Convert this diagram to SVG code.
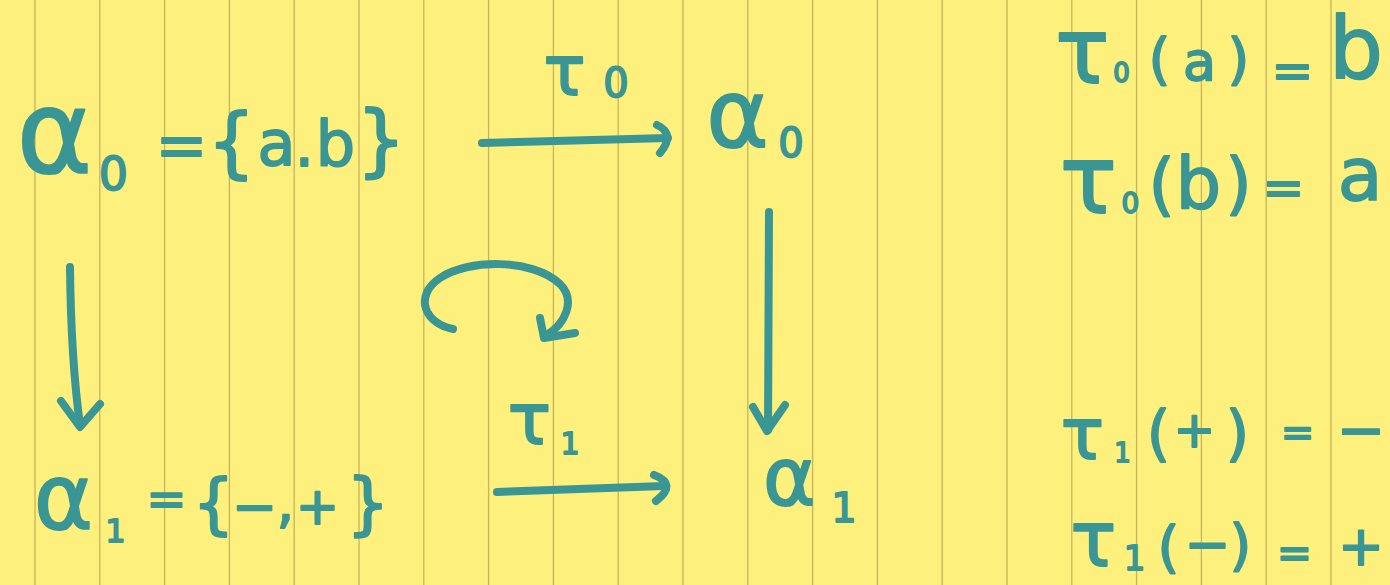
<svg xmlns="http://www.w3.org/2000/svg" width="1390" height="585" viewBox="0 0 1390 585">
  <style>
    .ink { fill: #3a9694; stroke: #3a9694; stroke-width: 1.8; stroke-linejoin: round; font-family: "DejaVu Sans", "Noto Sans", sans-serif; text-anchor: middle; }
    .stroke { fill: none; stroke: #3a9694; stroke-width: 8; stroke-linecap: round; stroke-linejoin: round; }
    .rule { stroke: #c9b35c; stroke-width: 1.3; }
  </style>

  <!-- legal pad paper -->
  <rect x="0" y="0" width="1390" height="585" fill="#fdf07c"/>
  <g id="paper-rules">
    <line class="rule" x1="35" y1="0" x2="35" y2="585"/>
    <line class="rule" x1="99.8" y1="0" x2="99.8" y2="585"/>
    <line class="rule" x1="164.6" y1="0" x2="164.6" y2="585"/>
    <line class="rule" x1="229.4" y1="0" x2="229.4" y2="585"/>
    <line class="rule" x1="294.2" y1="0" x2="294.2" y2="585"/>
    <line class="rule" x1="359" y1="0" x2="359" y2="585"/>
    <line class="rule" x1="423.8" y1="0" x2="423.8" y2="585"/>
    <line class="rule" x1="488.6" y1="0" x2="488.6" y2="585"/>
    <line class="rule" x1="553.4" y1="0" x2="553.4" y2="585"/>
    <line class="rule" x1="618.2" y1="0" x2="618.2" y2="585"/>
    <line class="rule" x1="683" y1="0" x2="683" y2="585"/>
    <line class="rule" x1="747.8" y1="0" x2="747.8" y2="585"/>
    <line class="rule" x1="812.6" y1="0" x2="812.6" y2="585"/>
    <line class="rule" x1="877.4" y1="0" x2="877.4" y2="585"/>
    <line class="rule" x1="942.2" y1="0" x2="942.2" y2="585"/>
    <line class="rule" x1="1007" y1="0" x2="1007" y2="585"/>
    <line class="rule" x1="1071.8" y1="0" x2="1071.8" y2="585"/>
    <line class="rule" x1="1136.6" y1="0" x2="1136.6" y2="585"/>
    <line class="rule" x1="1201.4" y1="0" x2="1201.4" y2="585"/>
    <line class="rule" x1="1266.2" y1="0" x2="1266.2" y2="585"/>
    <line class="rule" x1="1331" y1="0" x2="1331" y2="585"/>
  </g>

  <!-- α0 = {a.b} -->
  <g id="node-alpha0-set">
    <text class="ink">
      <tspan x="57" y="172" font-size="115">α</tspan>
      <tspan x="116" y="190" font-size="46">0</tspan>
      <tspan x="184" y="167" font-size="62">=</tspan>
      <tspan x="234" y="168" font-size="76">{</tspan>
      <tspan x="279" y="165" font-size="62">a</tspan>
      <tspan x="307" y="166" font-size="62">.</tspan>
      <tspan x="338" y="165" font-size="62">b</tspan>
      <tspan x="381" y="167" font-size="78">}</tspan>
    </text>
  </g>

  <!-- α0 (target) -->
  <g id="node-alpha0">
    <text class="ink">
      <tspan x="740" y="147" font-size="95">α</tspan>
      <tspan x="791" y="157" font-size="40">0</tspan>
    </text>
  </g>

  <!-- α1 = {−, +} -->
  <g id="node-alpha1-set">
    <text class="ink">
      <tspan x="66" y="529" font-size="90">α</tspan>
      <tspan x="118" y="542" font-size="32">1</tspan>
      <tspan x="169" y="515" font-size="48">=</tspan>
      <tspan x="216" y="526" font-size="66">{</tspan>
      <tspan x="257" y="525" font-size="54">−</tspan>
      <tspan x="288" y="522" font-size="56">,</tspan>
      <tspan x="320" y="524" font-size="52">+</tspan>
      <tspan x="368" y="527" font-size="68">}</tspan>
    </text>
  </g>

  <!-- α1 (target) -->
  <g id="node-alpha1">
    <text class="ink">
      <tspan x="792" y="505" font-size="80">α</tspan>
      <tspan x="844" y="522" font-size="40">1</tspan>
    </text>
  </g>

  <!-- arrows between the sets -->
  <g id="connectors">
    <!-- τ0 : α0 → α0 -->
    <path class="stroke" d="M482,143 L668,138"/>
    <path class="stroke" d="M657,125 Q676,134 660,153"/>
    <!-- left vertical -->
    <path class="stroke" d="M70,267 Q71,360 80,425"/>
    <path class="stroke" d="M61,401 L80,427 L100,404"/>
    <!-- right vertical -->
    <path class="stroke" d="M769,212 L768,430"/>
    <path class="stroke" d="M753,407 L767,431 L785,405"/>
    <!-- τ1 : α1 → α1 -->
    <path class="stroke" d="M497,492 L664,486"/>
    <path class="stroke" d="M654,475 Q678,484 656,501"/>
    <!-- curved arrow -->
    <path class="stroke" d="M453,329 C425,324 413,296 440,278 C468,259 532,258 560,284 C576,300 566,324 545,336"/>
    <path class="stroke" d="M540,318 L544,338 L575,333"/>
  </g>

  <!-- arrow labels -->
  <g id="label-tau0">
    <text class="ink">
      <tspan x="567" y="95" font-size="70">τ</tspan>
      <tspan x="616" y="97" font-size="40">0</tspan>
    </text>
  </g>
  <g id="label-tau1">
    <text class="ink">
      <tspan x="532" y="444" font-size="72">τ</tspan>
      <tspan x="570" y="454" font-size="30">1</tspan>
    </text>
  </g>

  <!-- τ0 values -->
  <g id="eq-tau0-a">
    <text class="ink">
      <tspan x="1085" y="83" font-size="90">τ</tspan>
      <tspan x="1124" y="82" font-size="26">0</tspan>
      <tspan x="1162" y="78" font-size="56">(</tspan>
      <tspan x="1202" y="80" font-size="54">a</tspan>
      <tspan x="1241" y="78" font-size="56">)</tspan>
      <tspan x="1295" y="88" font-size="50">=</tspan>
      <tspan x="1356" y="78" font-size="85">b</tspan>
    </text>
  </g>
  <g id="eq-tau0-b">
    <text class="ink">
      <tspan x="1091" y="213" font-size="95">τ</tspan>
      <tspan x="1133" y="213" font-size="28">0</tspan>
      <tspan x="1164" y="208" font-size="67">(</tspan>
      <tspan x="1201" y="208" font-size="72">b</tspan>
      <tspan x="1241" y="207" font-size="67">)</tspan>
      <tspan x="1286" y="205" font-size="50">=</tspan>
      <tspan x="1360" y="200" font-size="73">a</tspan>
    </text>
  </g>

  <!-- τ1 values -->
  <g id="eq-tau1-plus">
    <text class="ink">
      <tspan x="1085" y="459" font-size="72">τ</tspan>
      <tspan x="1125" y="462" font-size="26">1</tspan>
      <tspan x="1161" y="454" font-size="60">(</tspan>
      <tspan x="1197" y="447" font-size="50">+</tspan>
      <tspan x="1240" y="454" font-size="60">)</tspan>
      <tspan x="1300" y="446" font-size="40">=</tspan>
      <tspan x="1361" y="450" font-size="58">−</tspan>
    </text>
  </g>
  <g id="eq-tau1-minus">
    <text class="ink">
      <tspan x="1096" y="566" font-size="76">τ</tspan>
      <tspan x="1137" y="570" font-size="34">1</tspan>
      <tspan x="1171" y="566" font-size="56">(</tspan>
      <tspan x="1210" y="563" font-size="55">−</tspan>
      <tspan x="1243" y="564" font-size="56">)</tspan>
      <tspan x="1297" y="567" font-size="42">=</tspan>
      <tspan x="1361" y="565" font-size="55">+</tspan>
    </text>
  </g>
</svg>
